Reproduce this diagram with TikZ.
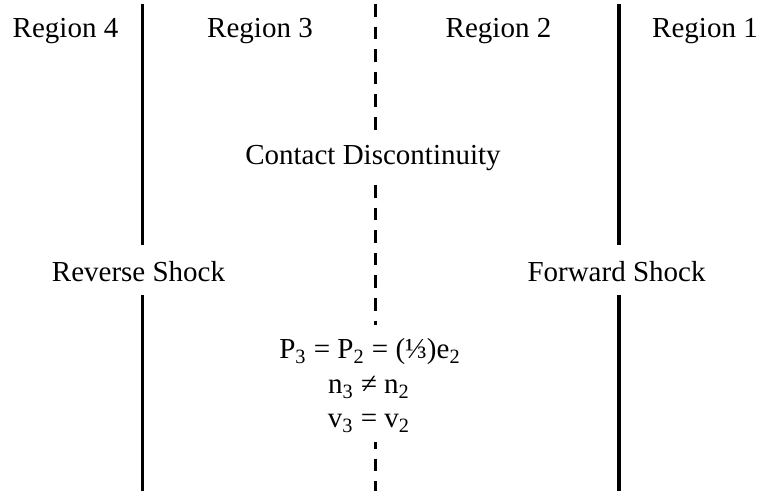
\documentclass[tikz,border=0pt]{standalone}
\usepackage{fontspec}
\setmainfont{Liberation Serif}
\begin{document}
\begin{tikzpicture}[x=0.5pt,y=-0.5pt,
  lbl/.style={anchor=base,inner sep=0pt,font=\fontsize{14.5}{17}\selectfont},
  shockline/.style={line width=1.65pt,black},
  contactline/.style={line width=1.65pt,black,dash pattern=on 6.3pt off 5pt}]
\useasboundingbox (0,0) rectangle (761,491);
% boundary coordinates
\coordinate (rsTop) at (142.5,4);
\coordinate (rsMidA) at (142.5,245);
\coordinate (rsMidB) at (142.5,295);
\coordinate (rsBot) at (142.5,491);
\coordinate (fsTop) at (619,4);
\coordinate (fsMidA) at (619,245);
\coordinate (fsMidB) at (619,295);
\coordinate (fsBot) at (619,491);
\coordinate (cdTop) at (375.5,4);
\coordinate (cdA) at (375.5,130);
\coordinate (cdB) at (375.5,185);
\coordinate (cdC) at (375.5,325);
\coordinate (cdD) at (375.5,442);
\coordinate (cdBot) at (375.5,491);
% lines
\draw[shockline] (rsTop) -- (rsMidA);
\draw[shockline] (rsMidB) -- (rsBot);
\draw[shockline] (fsTop) -- (fsMidA);
\draw[shockline] (fsMidB) -- (fsBot);
\draw[contactline] (cdTop) -- (cdA);
\draw[contactline] (cdB) -- (cdC);
\draw[contactline,dash phase=3pt] (cdD) -- (cdBot);
% labels
\node[lbl] (r4) at (65.5,38) {Region 4};
\node[lbl] (r3) at (260,38) {Region 3};
\node[lbl] (r2) at (498.5,38) {Region 2};
\node[lbl] (r1) at (705,38) {Region 1};
\node[lbl] (cd) at (373,165) {Contact Discontinuity};
\node[lbl] (rs) at (138.5,282) {Reverse Shock};
\node[lbl] (fs) at (616.5,282) {Forward Shock};
\node[lbl] (eq1) at (370,359) {P\textsubscript{3} = P\textsubscript{2} = (⅓)e\textsubscript{2}};
\node[lbl] (eq2) at (369,394) {n\textsubscript{3} ≠ n\textsubscript{2}};
\node[lbl] (eq3) at (369,428) {v\textsubscript{3} = v\textsubscript{2}};
\end{tikzpicture}
\end{document}
